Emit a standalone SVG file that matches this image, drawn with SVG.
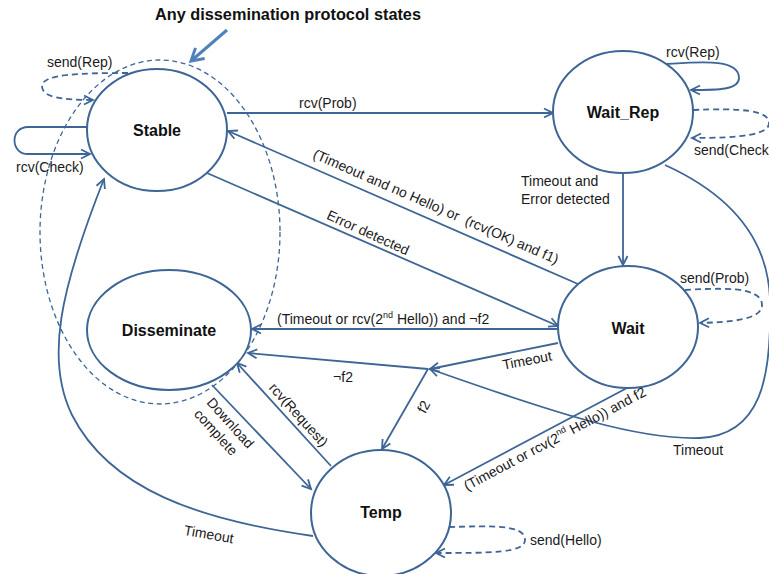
<svg xmlns="http://www.w3.org/2000/svg" width="769" height="574" viewBox="0 0 769 574">
<style>
.node{fill:#fff;stroke:#3d6595;stroke-width:2}
.nl{font-family:"Liberation Sans",Arial,sans-serif;font-size:16px;font-weight:bold;fill:#111;text-anchor:middle}
.e{fill:none;stroke:#3d6595;stroke-width:1.8}
.d{fill:none;stroke:#3d6595;stroke-width:1.8;stroke-dasharray:6 4}
.t{font-family:"Liberation Sans",Arial,sans-serif;font-size:14px;fill:#1a1a1a}
.m{text-anchor:middle}
</style>
<defs>
<marker id="a" markerUnits="userSpaceOnUse" orient="auto" overflow="visible" refX="0" refY="0" markerWidth="12" markerHeight="12">
<path d="M-9,-4.5 L0,0 L-9,4.5" fill="none" stroke="#3d6595" stroke-width="1.8" stroke-dasharray="none"/>
</marker>
<marker id="b" markerUnits="userSpaceOnUse" orient="auto" overflow="visible" refX="0" refY="0" markerWidth="16" markerHeight="16">
<path d="M-12,-7 L0,0 L-12,7" fill="none" stroke="#4f81bd" stroke-width="3"/>
</marker>
</defs>

<!-- group boundary -->
<ellipse cx="160" cy="232" rx="120" ry="172" fill="none" stroke="#3d6595" stroke-width="1.3" stroke-dasharray="5 3.5"/>
<text class="nl" x="288" y="20" style="font-size:16.3px">Any dissemination protocol states</text>
<path d="M227,30 L191,61" fill="none" stroke="#4f81bd" stroke-width="3" marker-end="url(#b)"/>

<g id="connectors">
<!-- Stable -> Wait_Rep -->
<path class="e" d="M227,113 L553,113" marker-end="url(#a)"/>
<text class="t" x="299" y="108">rcv(Prob)</text>
<!-- Wait -> Stable -->
<path class="e" d="M578,284 L228,131" marker-end="url(#a)"/>
<text class="t m" transform="translate(434,211) rotate(23.6)">(Timeout and no Hello) or &#160;(rcv(OK) and f1)</text>
<!-- Stable -> Wait -->
<path class="e" d="M207,173 L558,326" marker-end="url(#a)"/>
<text class="t m" transform="translate(366,237) rotate(24.5)">Error detected</text>
<!-- Wait_Rep -> Wait -->
<path class="e" d="M623,173 L623,265" marker-end="url(#a)"/>
<text class="t" x="521" y="186">Timeout and</text>
<text class="t" x="521" y="204">Error detected</text>
<!-- Wait -> Disseminate -->
<path class="e" d="M559,329 L252,329" marker-end="url(#a)"/>
<text class="t" x="277" y="324">(Timeout or rcv(2<tspan font-size="9" dy="-6">nd</tspan><tspan dy="6"> Hello)) and ¬f2</tspan></text>
<!-- Wait -> junction -->
<path class="e" d="M558,343 L430,369" marker-end="url(#a)"/>
<text class="t m" transform="translate(528,365) rotate(-11)">Timeout</text>
<!-- junction -> Disseminate -->
<path class="e" d="M428,369 L248,353" marker-end="url(#a)"/>
<text class="t m" x="343" y="382">¬f2</text>
<!-- junction -> Temp -->
<path class="e" d="M428,369 L382,449" marker-end="url(#a)"/>
<text class="t m" transform="translate(428,409) rotate(-62)">f2</text>
<!-- Wait_Rep -> junction (Timeout) -->
<path class="e" d="M665,165 C720,190 768,230 770,300 C772,380 760,435 700,438 C640,440 560,415 430,369" marker-end="url(#a)"/>
<text class="t" x="673" y="455">Timeout</text>
<!-- Wait -> Temp -->
<path class="e" d="M627,388 L444,485" marker-end="url(#a)"/>
<text class="t m" transform="translate(557,443) rotate(-28)">(Timeout or rcv(2<tspan font-size="9" dy="-6">nd</tspan><tspan dy="6"> Hello)) and f2</tspan></text>
<!-- Disseminate -> Temp -->
<path class="e" d="M212,385 L311,489" marker-end="url(#a)"/>
<text class="t" transform="translate(206,403) rotate(48)"><tspan x="0" y="0">Download</tspan><tspan x="0" y="17">complete</tspan></text>
<!-- Temp -> Disseminate -->
<path class="e" d="M331,466 L237,363" marker-end="url(#a)"/>
<text class="t m" transform="translate(295,418) rotate(48)">rcv(Request)</text>
<!-- Temp -> Stable -->
<path class="e" d="M313,536 C200,520 110,490 72,415 C45,360 60,290 104,179" marker-end="url(#a)"/>
<text class="t m" transform="translate(208,539) rotate(10)">Timeout</text>
<!-- self loops -->
<path class="e" d="M87,127 L28,127 C10,127 10,154 28,154 L90,154" marker-end="url(#a)"/>
<text class="t" x="16" y="172">rcv(Check)</text>
<path class="d" d="M128,73 C80,73 42,74 42,86 C42,97 60,100 93,100" marker-end="url(#a)"/>
<text class="t" x="47" y="67">send(Rep)</text>
<path class="e" d="M665,64 C700,62 739,58 739,78 C739,90 718,90 691,90" marker-end="url(#a)"/>
<text class="t" x="666" y="57">rcv(Rep)</text>
<path class="d" d="M693,110 C740,108 769,110 769,123 C769,135 740,138 692,138" marker-end="url(#a)"/>
<text class="t" x="694" y="155">send(Check</text>
<path class="d" d="M685,290 C720,288 762,286 762,305 C762,320 730,322 700,323" marker-end="url(#a)"/>
<text class="t" x="680" y="283">send(Prob)</text>
<path class="d" d="M449,527 C490,526 525,524 525,540 C525,553 490,553 436,553" marker-end="url(#a)"/>
<text class="t" x="530" y="545">send(Hello)</text>
</g>

<g id="stable"><ellipse class="node" cx="157" cy="130" rx="70" ry="61"/><text class="nl" x="157" y="136">Stable</text></g>
<g id="wait_rep"><ellipse class="node" cx="623" cy="112" rx="70" ry="61"/><text class="nl" x="623" y="118">Wait_Rep</text></g>
<g id="wait"><ellipse class="node" cx="628" cy="327" rx="70" ry="61"/><text class="nl" x="628" y="334">Wait</text></g>
<g id="disseminate"><ellipse class="node" cx="169" cy="330" rx="82" ry="60"/><text class="nl" x="169" y="336">Disseminate</text></g>
<g id="temp"><ellipse class="node" cx="381" cy="513" rx="70" ry="63"/><text class="nl" x="381" y="518">Temp</text></g>
</svg>
